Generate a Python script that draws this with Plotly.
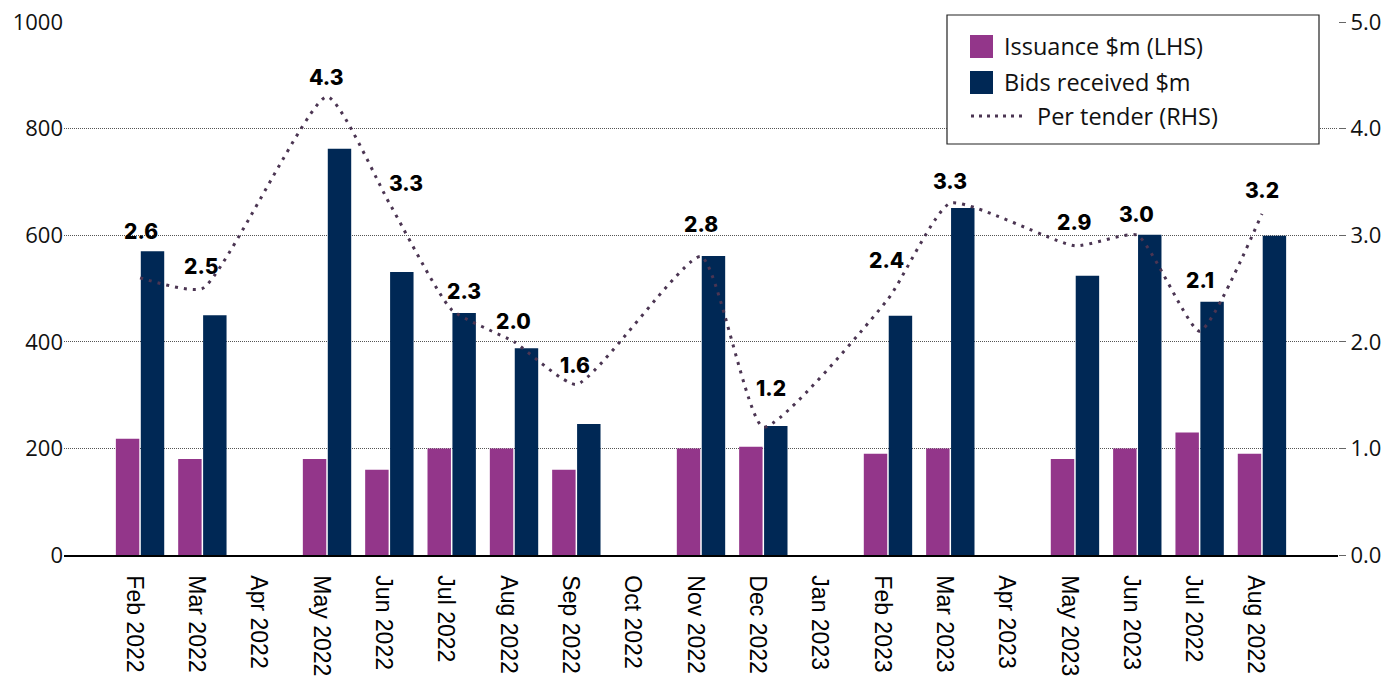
import plotly.graph_objects as go

# ---- data ----
months = ["Feb 2022", "Mar 2022", "Apr 2022", "May 2022", "Jun 2022", "Jul 2022",
          "Aug 2022", "Sep 2022", "Oct 2022", "Nov 2022", "Dec 2022", "Jan 2023",
          "Feb 2023", "Mar 2023", "Apr 2023", "May 2023", "Jun 2023", "Jul 2022",
          "Aug 2022"]
issuance = [218, 180, None, 180, 160, 200, 200, 160, None, 200, 203, None,
            190, 200, None, 180, 200, 230, 190]
bids = [570, 450, None, 762, 531, 454, 388, 246, None, 561, 242, None,
        449, 651, None, 524, 601, 475, 599]
per_tender = [2.6, 2.5, None, 4.3, 3.3, 2.3, 2.0, 1.6, None, 2.8, 1.2, None,
              2.4, 3.3, None, 2.9, 3.0, 2.1, 3.2]
series_names = ["Issuance $m (LHS)", "Bids received $m", "Per tender (RHS)"]

# ---- styling ----
PURPLE = "#93368A"
NAVY = "#002855"
LINE = "#4B3552"
FONT = "Open Sans"
W, H = 1381, 676
ML, MR, MT, MB = 64, 43, 22, 121
label_dy = [46, 22, 0, 19, 20, 18, 20, 19, 0, 32, 39, 0, 39, 22, 0, 23, 21, 51, 23]
label_dx = [1, -1, 0, -1, 17, 12, -1, -1, 0, 0, 8, 0, -1, 0, 0, -1, -1, 0, 0]

PW, PH = W - ML - MR, H - MT - MB


def px(xp):
    return (xp - ML) / PW


def py(yp):
    return (H - MB - yp) / PH


x = list(range(len(months)))

fig = go.Figure()
fig.add_trace(go.Bar(x=x, y=issuance, name=series_names[0],
                     marker=dict(color=PURPLE, line=dict(width=0))))
fig.add_trace(go.Bar(x=x, y=bids, name=series_names[1],
                     marker=dict(color=NAVY, line=dict(width=0))))
fig.add_trace(go.Scatter(x=x, y=per_tender, name=series_names[2], yaxis="y2",
                         mode="lines", connectgaps=True,
                         line=dict(color=LINE, width=3, dash="3px,6px",
                                   shape="spline", smoothing=0.5)))

for i, v in enumerate(per_tender):
    if v is None:
        continue
    fig.add_annotation(x=i, y=v, yref="y2", text=f"{v:.1f}", showarrow=False,
                       yshift=label_dy[i], xshift=label_dx[i],
                       font=dict(family="Inter", size=21, color="#000", weight=800))

# ---- legend (drawn box, swatches and text) ----
shapes = [dict(type="rect", xref="paper", yref="paper",
               x0=px(947), x1=px(1319), y0=py(144), y1=py(15),
               fillcolor="white", line=dict(color="#222", width=1.2), layer="above"),
          dict(type="rect", xref="paper", yref="paper",
               x0=px(970), x1=px(993), y0=py(58), y1=py(35),
               fillcolor=PURPLE, line=dict(width=0), layer="above"),
          dict(type="rect", xref="paper", yref="paper",
               x0=px(970), x1=px(993), y0=py(94), y1=py(71),
               fillcolor=NAVY, line=dict(width=0), layer="above"),
          dict(type="line", xref="paper", yref="paper",
               x0=px(971), x1=px(1022), y0=py(116), y1=py(116),
               line=dict(color=LINE, width=3, dash="3px,5px"), layer="above")]
legend_text = [(1002, 46), (1002, 82), (1035, 116)]
for name, (tx, ty) in zip(series_names, legend_text):
    fig.add_annotation(xref="paper", yref="paper", x=px(tx), y=py(ty), text=name,
                       showarrow=False, xanchor="left", yanchor="middle",
                       font=dict(family=FONT, size=23.5, color="#111"))

fig.update_layout(
    width=W, height=H,
    margin=dict(l=ML, r=MR, t=MT, b=MB, autoexpand=False),
    paper_bgcolor="white", plot_bgcolor="white",
    barmode="group", bargap=0.2, bargroupgap=0.06,
    font=dict(family=FONT, size=21, color="#111"),
    showlegend=False,
    shapes=shapes,
    xaxis=dict(range=[-1.22, 19.22], tickmode="array", tickvals=x, ticktext=months,
               tickangle=90, showgrid=False, showline=True, linecolor="#000",
               linewidth=1.5, ticks="", automargin=False,
               tickfont=dict(family="Liberation Sans", size=23, color="#000"),
               ticklabelstandoff=14, ticklabelshift=-6),
    yaxis=dict(range=[0, 1000], dtick=200, showgrid=True, gridcolor="#555",
               griddash="1px,1px", gridwidth=1, zeroline=False, ticks="",
               automargin=False, tickfont=dict(family=FONT, size=22, color="#111")),
    yaxis2=dict(range=[0, 5], dtick=1, tickformat=".1f", overlaying="y",
                side="right", showgrid=False, zeroline=False, ticks="outside",
                ticklen=7, tickcolor="#666", automargin=False,
                tickfont=dict(family=FONT, size=22, color="#111")),
)

fig.write_html("out.html")
